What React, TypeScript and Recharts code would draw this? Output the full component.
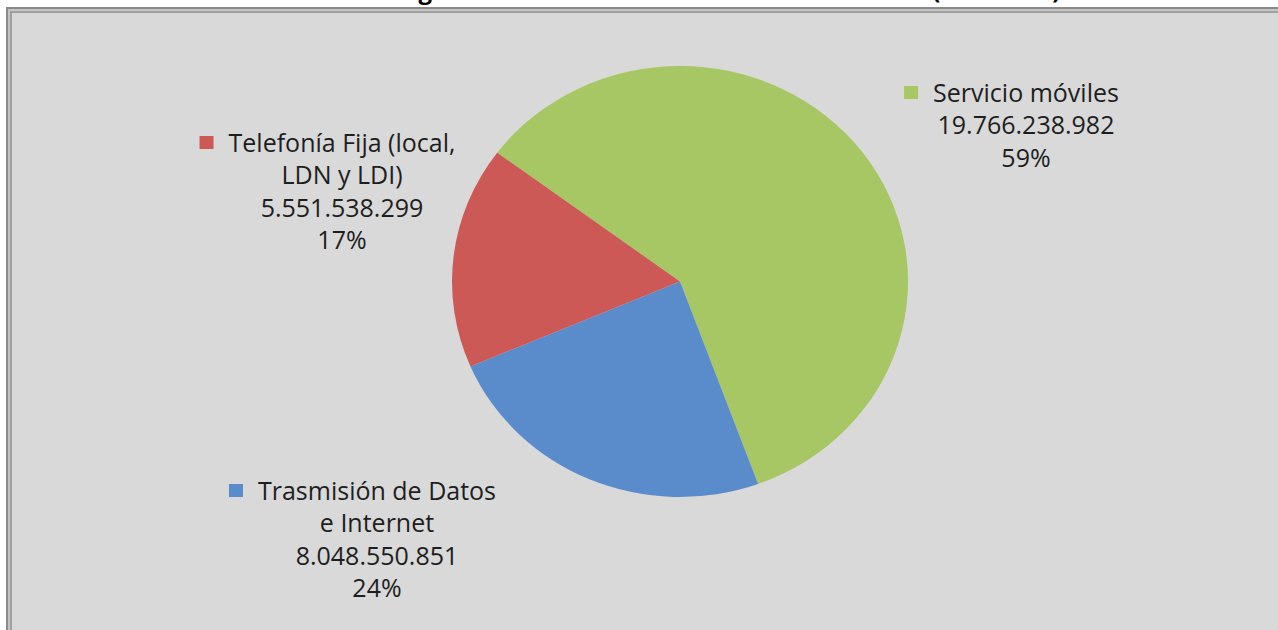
import React from 'react';
import { PieChart, Pie, Cell } from 'recharts';

const categories = ['Servicio móviles', 'Trasmisión de Datos e Internet', 'Telefonía Fija (local, LDN y LDI)'];
const values = [19766238982, 8048550851, 5551538299];
const percentLabels = ['59%', '24%', '17%'];
const valueLabels = ['19.766.238.982', '8.048.550.851', '5.551.538.299'];
// how each category label is broken over lines, as in the original
const nameLines = [['Servicio móviles'], ['Trasmisión de Datos', 'e Internet'], ['Telefonía Fija (local,', 'LDN y LDI)']];
const title = 'Ingresos del sector de telecomunicaciones (año 2012)';

const colors = ['#a6c763', '#5a8bcb', '#cd5957'];
// label boxes: centre x and first baseline y
const labelPos = [
  { x: 1026, y: 102 },
  { x: 377, y: 500 },
  { x: 342, y: 152 },
];

const data = categories.map((name, i) => ({ name, value: values[i] }));

const FONT = '"Open Sans", sans-serif';
const FONT_SIZE = 25;
const LINE_H = 32.3;
const STRETCH = 1.058; // the original pie is a bit wider than tall

let ctx: CanvasRenderingContext2D | null = null;
const measure = (s: string) => {
  if (!ctx) ctx = document.createElement('canvas').getContext('2d');
  if (!ctx) return s.length * FONT_SIZE * 0.5;
  ctx.font = `${FONT_SIZE}px "Open Sans"`;
  return ctx.measureText(s).width;
};

const RAD = Math.PI / 180;
const EllipseSector = (props: any) => {
  const { cx, cy, outerRadius, startAngle, endAngle, fill } = props;
  const rx = outerRadius * STRETCH;
  const ry = outerRadius;
  const p = (a: number) => [cx + rx * Math.cos(-a * RAD), cy + ry * Math.sin(-a * RAD)];
  const [x1, y1] = p(startAngle);
  const [x2, y2] = p(endAngle);
  const span = Math.abs(endAngle - startAngle);
  const large = span > 180 ? 1 : 0;
  const sweep = endAngle < startAngle ? 1 : 0;
  const d = `M${cx},${cy} L${x1},${y1} A${rx},${ry} 0 ${large} ${sweep} ${x2},${y2} Z`;
  return <path d={d} fill={fill} stroke="none" />;
};

const renderLabel = (props: any) => {
  const { index } = props;
  const pos = labelPos[index];
  const lines = [...nameLines[index], valueLabels[index], percentLabels[index]];
  const firstW = measure(lines[0]);
  const markerX = pos.x - firstW / 2 - 29;
  return (
    <g>
      <rect x={markerX} y={pos.y - 16} width={14} height={13} fill={colors[index]} />
      {lines.map((t, i) => (
        <text
          key={i}
          x={pos.x}
          y={pos.y + i * LINE_H}
          textAnchor="middle"
          fontFamily={FONT}
          fontSize={FONT_SIZE}
          fill="#1e1e1e"
        >
          {t}
        </text>
      ))}
    </g>
  );
};

export default function App() {
  return (
    <div style={{ position: 'fixed', left: 0, top: 0, width: 1278, height: 630, overflow: 'hidden', background: '#ffffff' }}>
      <div
        style={{
          position: 'absolute',
          left: 6,
          top: 7,
          width: 1290,
          height: 640,
          background: '#d9d9d9',
          borderTop: '2px solid #8a8a8a',
          borderLeft: '2px solid #8a8a8a',
          boxShadow: 'inset 2px 2px 0 #c4c4c4, inset 4px 4px 0 #a0a0a0',
        }}
      />
      <svg width={1278} height={20} style={{ position: 'absolute', left: 0, top: 0 }}>
        <text
          x={727}
          y={-1}
          textAnchor="middle"
          fontFamily={FONT}
          fontWeight="bold"
          fontSize={24}
          textLength={667}
          lengthAdjust="spacing"
          fill="#000"
        >
          {title}
        </text>
      </svg>
      <div style={{ position: 'absolute', left: 0, top: 0 }}>
        <PieChart width={1278} height={630} margin={{ top: 0, right: 0, bottom: 0, left: 0 }}>
          <Pie
            data={data}
            dataKey="value"
            nameKey="name"
            cx={680}
            cy={281.5}
            outerRadius={215.5}
            startAngle={143.3}
            endAngle={143.3 - 360}
            stroke="none"
            shape={EllipseSector}
            label={renderLabel}
            labelLine={false}
            isAnimationActive={false}
          >
            {data.map((d, i) => (
              <Cell key={d.name} fill={colors[i]} />
            ))}
          </Pie>
        </PieChart>
      </div>
    </div>
  );
}
